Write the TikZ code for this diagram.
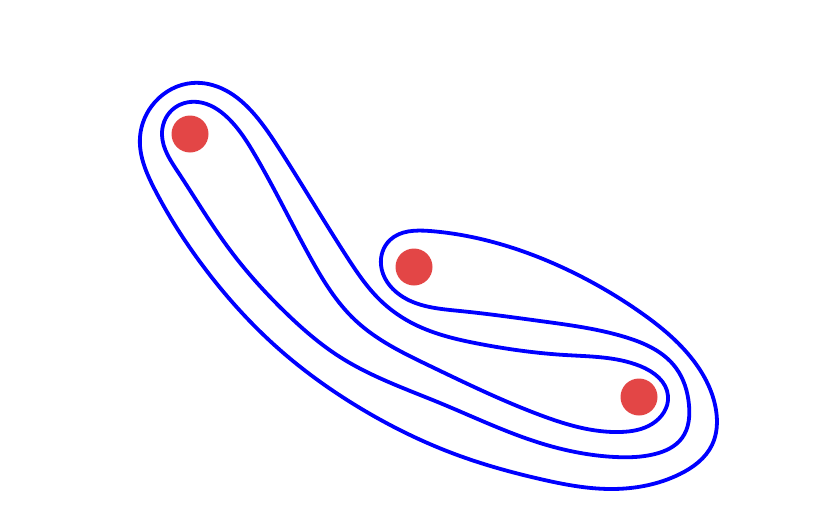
\documentclass[tikz,border=0pt]{standalone}
\usetikzlibrary{hobby}
\definecolor{dotred}{RGB}{227,70,70}
\definecolor{curveblue}{RGB}{0,0,255}
\begin{document}
\begin{tikzpicture}[x=1pt,y=-1pt,
  dot/.style={circle,fill=dotred,draw=none,minimum size=37pt,inner sep=0pt},
  lasso/.style={draw=curveblue,line width=3.8pt,line join=round}]
\useasboundingbox (0,0) rectangle (830,530);
\path[lasso] plot[closed hobby] coordinates {
 (198,102) (228,118) (255,155) (310,257) (355,320) (430,366)
 (540,415) (620,432) (652,424) (668,396) (640,366) (565,355)
 (480,344) (410,322) (380,300) (347,257) (280,150) (255,115)
 (225,90) (192,83) (155,102) (140,137) (155,190) (203,266) (280,350)
 (360,408) (460,456) (540,479) (610,489) (680,474) (712,445) (716,410)
 (693,360) (640,312) (570,271) (500,244) (430,231) (390,240)
 (381,265) (400,295) (460,311) (540,321) (625,337) (676,368)
 (689,405) (682,438) (655,454) (615,457) (540,443) (440,403) (340,357)
 (285,312) (230,250) (178,172) (162,135) (172,110)
};
\node[dot] (p1) at (190,134) {};
\node[dot] (p2) at (414,267) {};
\node[dot] (p3) at (639,397) {};
\end{tikzpicture}
\end{document}
